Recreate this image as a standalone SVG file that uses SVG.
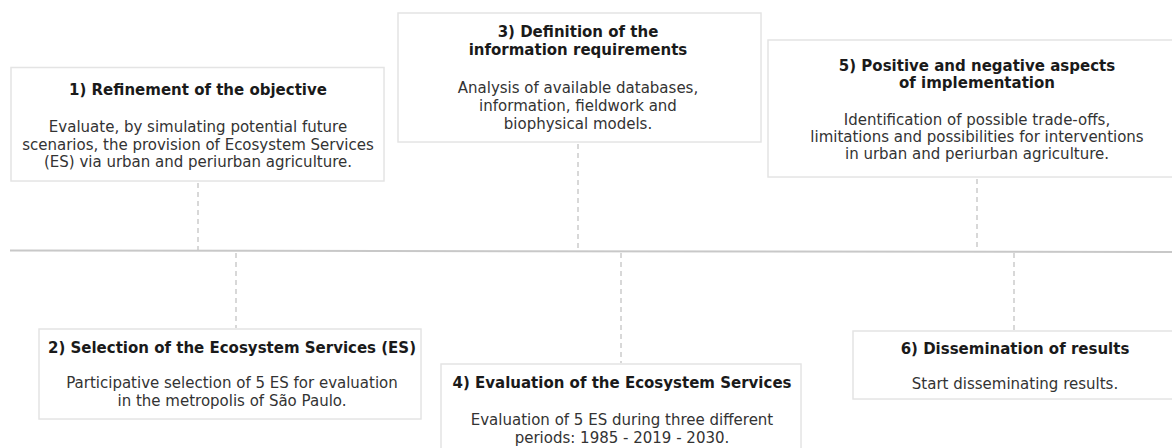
<svg xmlns="http://www.w3.org/2000/svg" width="1172" height="448" viewBox="0 0 1172 448">
<style>
.box{fill:#fff;stroke:#e4e4e4;stroke-width:1.5}
.t{font-family:"DejaVu Sans",Verdana,sans-serif;font-size:15px;font-weight:bold;fill:#1a1a1a;text-anchor:middle}
.b{font-family:"DejaVu Sans",Verdana,sans-serif;font-size:15px;fill:#333;text-anchor:middle}
.dash{stroke:#c4c4c4;stroke-width:1.3;stroke-dasharray:5,4;fill:none}
.axis{stroke:#c8c8c8;stroke-width:2;fill:none}
</style>
<rect width="1172" height="448" fill="#fff"/>
<g id="connectors">
<line class="axis" x1="10" y1="250.5" x2="1172" y2="252"/>
<line class="dash" x1="198" y1="183" x2="198" y2="250"/>
<line class="dash" x1="578" y1="144" x2="578" y2="250"/>
<line class="dash" x1="977" y1="179" x2="977" y2="251"/>
<line class="dash" x1="236" y1="253" x2="236" y2="328"/>
<line class="dash" x1="621" y1="253" x2="621" y2="363"/>
<line class="dash" x1="1014" y1="253" x2="1014" y2="330"/>
</g>
<g id="node1">
<rect class="box" x="11" y="67.5" width="373" height="113.5"/>
<text class="t" x="198" y="95">1) Refinement of the objective</text>
<text class="b" x="198" y="132">Evaluate, by simulating potential future</text>
<text class="b" x="198" y="149.5">scenarios, the provision of Ecosystem Services</text>
<text class="b" x="198" y="167">(ES) via urban and periurban agriculture.</text>
</g>
<g id="node3">
<rect class="box" x="398" y="13" width="363" height="129"/>
<text class="t" x="578" y="37">3) Definition of the</text>
<text class="t" x="578" y="55">information requirements</text>
<text class="b" x="578" y="93">Analysis of available databases,</text>
<text class="b" x="578" y="111">information, fieldwork and</text>
<text class="b" x="578" y="129">biophysical models.</text>
</g>
<g id="node5">
<rect class="box" x="768" y="40" width="420" height="137"/>
<text class="t" x="977" y="71">5) Positive and negative aspects</text>
<text class="t" x="977" y="88">of implementation</text>
<text class="b" x="977" y="125">Identification of possible trade-offs,</text>
<text class="b" x="977" y="142">limitations and possibilities for interventions</text>
<text class="b" x="977" y="159">in urban and periurban agriculture.</text>
</g>
<g id="node2">
<rect class="box" x="39" y="329" width="382" height="90"/>
<text class="t" x="232" y="353">2) Selection of the Ecosystem Services (ES)</text>
<text class="b" x="232" y="388">Participative selection of 5 ES for evaluation</text>
<text class="b" x="232" y="406">in the metropolis of São Paulo.</text>
</g>
<g id="node4">
<rect class="box" x="441" y="364" width="360" height="95"/>
<text class="t" x="622" y="388">4) Evaluation of the Ecosystem Services</text>
<text class="b" x="622" y="425">Evaluation of 5 ES during three different</text>
<text class="b" x="622" y="443">periods: 1985 - 2019 - 2030.</text>
</g>
<g id="node6">
<rect class="box" x="853" y="331" width="330" height="68"/>
<text class="t" x="1015" y="354">6) Dissemination of results</text>
<text class="b" x="1015" y="389">Start disseminating results.</text>
</g>
</svg>
